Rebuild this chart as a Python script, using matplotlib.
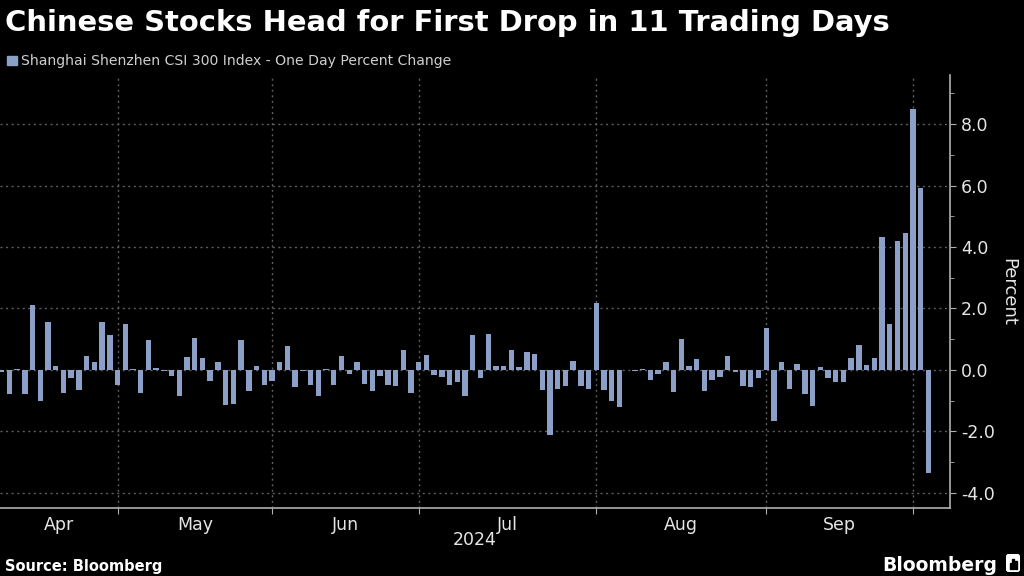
import numpy as np
import matplotlib
matplotlib.use('Agg')
import matplotlib.pyplot as plt
from matplotlib.patches import Rectangle, FancyBboxPatch
from matplotlib.ticker import FixedLocator, NullFormatter, MultipleLocator

# DATA
# one-day % change of the CSI 300, one value per trading day (Apr 9 - Oct 9, 2024)
pct_change = [
    -0.07, -0.80, 0.02, -0.79, 2.11, -1.03, 1.55, 0.12, -0.76, -0.28,
    -0.67, 0.46, 0.27, 1.55, 1.13, -0.51,                                  # Apr
    1.49, 0.04, -0.76, 0.97, 0.07, -0.03, -0.20, -0.85, 0.41, 1.04,
    0.37, -0.38, 0.25, -1.15, -1.10, 0.97, -0.70, 0.12, -0.51, -0.38,      # May
    0.27, 0.77, -0.57, -0.05, -0.48, -0.85, 0.04, -0.48, 0.46, -0.15,
    0.27, -0.46, -0.70, -0.20, -0.51, -0.54, 0.65, -0.74, 0.25,            # Jun
    0.49, -0.17, -0.24, -0.48, -0.39, -0.85, 1.13, -0.28, 1.16, 0.12,
    0.12, 0.65, 0.09, 0.58, 0.52, -0.67, -2.12, -0.62, -0.53, 0.29,
    -0.54, -0.62, 2.17,                                                    # Jul
    -0.65, -1.01, -1.21, -0.02, -0.03, 0.04, -0.32, -0.15, 0.26, -0.73,
    0.99, 0.12, 0.35, -0.70, -0.32, -0.24, 0.44, -0.07, -0.53, -0.57,
    -0.26, 1.35,                                                           # Aug
    -1.66, 0.26, -0.61, 0.18, -0.79, -1.18, 0.10, -0.27, -0.39, -0.39,
    0.38, 0.81, 0.15, 0.38, 4.34, 1.49, 4.21, 4.46, 8.48,                  # Sep
    5.92, -3.35,                                                           # Oct
]
month_labels = ['Apr', 'May', 'Jun', 'Jul', 'Aug', 'Sep']
days_per_month = [16, 20, 19, 23, 22, 19, 2]
year_label = '2024'
y_ticks = [-4, -2, 0, 2, 4, 6, 8]

title = 'Chinese Stocks Head for First Drop in 11 Trading Days'
legend_label = 'Shanghai Shenzhen CSI 300 Index - One Day Percent Change'

# STYLE
bg = '#000000'
bar_c = '#8c9fc6'
grid_c = '#5e5e5e'
axis_c = '#b0b0b0'
text_c = '#e6e6e6'

W, H = 1024, 576
fig = plt.figure(figsize=(W / 100, H / 100), dpi=100, facecolor=bg)
ax = fig.add_axes([0.0, 1 - 508 / H, 950 / W, (508 - 75) / H], facecolor=bg)

x = np.arange(len(pct_change))
ax.bar(x, pct_change, width=0.7, color=bar_c, zorder=3)

ax.set_xlim(-0.22, 122.8)
ax.set_ylim(-4.5, 9.6)

# month boundaries sit on the last trading day of each month
month_ends = list(np.cumsum(days_per_month)[:-1] - 1)
ax.xaxis.set_major_locator(FixedLocator(month_ends))
ax.xaxis.set_major_formatter(NullFormatter())
starts = [-0.22] + month_ends[:-1]
mids = [(a + b) / 2 for a, b in zip(starts, month_ends)]
ax.xaxis.set_minor_locator(FixedLocator(mids))
ax.set_xticklabels(month_labels, minor=True)
ax.tick_params(axis='x', which='major', length=4, color=axis_c, direction='out')
ax.tick_params(axis='x', which='minor', length=0, pad=6, labelsize=12.5, labelcolor=text_c)

ax.yaxis.tick_right()
ax.yaxis.set_label_position('right')
ax.set_yticks(y_ticks)
ax.set_yticklabels([f'{v:.1f}' for v in y_ticks])
ax.yaxis.set_minor_locator(MultipleLocator(1))
ax.tick_params(axis='y', which='major', length=4, color=axis_c, labelsize=12.5,
               labelcolor=text_c, pad=4)
ax.tick_params(axis='y', which='minor', length=3, color=axis_c)
ax.set_ylabel('Percent', rotation=270, color=text_c, fontsize=13, labelpad=16)

ax.grid(True, which='major', axis='both', color=grid_c, linestyle=(0, (1.5, 2.5)),
        linewidth=1, zorder=0)

for s in ['left', 'top']:
    ax.spines[s].set_visible(False)
for s in ['right', 'bottom']:
    ax.spines[s].set_color(axis_c)
    ax.spines[s].set_linewidth(1.2)

ax.text(0.5, -(540 - 508) / (508 - 75), year_label, transform=ax.transAxes,
        ha='center', va='center', color=text_c, fontsize=12.5)

# header
fig.text(5 / W, 1 - 31 / H, title, color='white', fontsize=20.9, fontweight='bold',
         ha='left', va='baseline')
fig.patches.append(Rectangle((7 / W, 1 - 65 / H), 10 / W, 9 / H,
                             transform=fig.transFigure, color=bar_c))
fig.text(21 / W, 1 - 65 / H, legend_label, color='#cfcfcf', fontsize=10.1,
         ha='left', va='baseline')

# footer
fig.text(5 / W, 1 - 571 / H, 'Source: Bloomberg', color='white', fontsize=10.5,
         fontweight='bold', ha='left', va='baseline')
fig.text(997 / W, 1 - 571 / H, 'Bloomberg', color='white', fontsize=13.5,
         fontweight='bold', ha='right', va='baseline')

# small logo mark, drawn in its own pixel-sized axes
icon = fig.add_axes([1006 / W, 1 - 572 / H, 14 / W, 18 / H])
icon.set_xlim(0, 14)
icon.set_ylim(0, 18)
icon.axis('off')
icon.add_patch(FancyBboxPatch((0.5, 0.5), 13, 17, boxstyle='round,pad=0,rounding_size=2.5',
                              color='white'))
for k, hgt in enumerate([6, 10, 8]):
    icon.add_patch(Rectangle((3.5 + 2.8 * k, 3), 1.6, hgt, color=bg))

fig.savefig('out.png', dpi=100, facecolor=bg)
